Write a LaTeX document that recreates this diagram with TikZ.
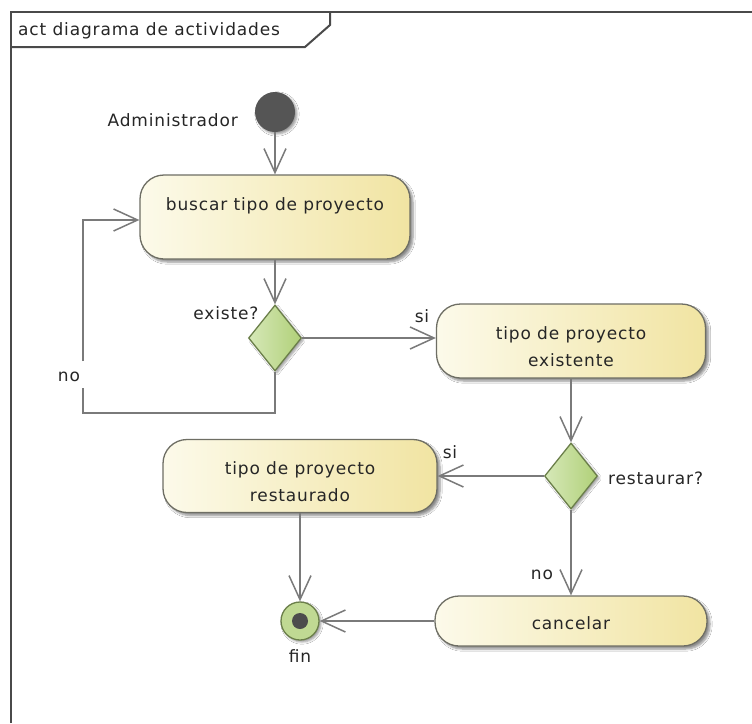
\documentclass[tikz,border=0pt]{standalone}
\usepackage{fontspec}
\setmainfont[LetterSpace=5]{DejaVu Sans}
\usetikzlibrary{arrows.meta,shapes.geometric,shadows.blur}
\definecolor{lineg}{HTML}{7A7A7A}
\definecolor{frameg}{HTML}{4A4A4A}
\definecolor{actL}{HTML}{FCFAEA}
\definecolor{actR}{HTML}{F1E4A2}
\definecolor{actB}{HTML}{6E6E64}
\definecolor{decL}{HTML}{D6E8B8}
\definecolor{decR}{HTML}{B0D078}
\definecolor{decB}{HTML}{6B7F4A}
\definecolor{dark}{HTML}{555555}
\tikzset{
  x=1pt,y=-1pt,
  every node/.style={font=\fontsize{17}{27}\selectfont, text=black!85},
  action/.style={draw=actB, line width=1.3pt, rounded corners=24pt, left color=actL, right color=actR,
    inner sep=0pt, blur shadow={shadow xshift=3pt, shadow yshift=-3pt, shadow blur steps=6, shadow opacity=45}},
  decision/.style={diamond, draw=decB, line width=1.3pt, left color=decL, right color=decR, inner sep=0pt,
    minimum width=53pt, minimum height=66pt, aspect=0.8,
    blur shadow={shadow xshift=2pt, shadow yshift=-2pt, shadow blur steps=5, shadow opacity=40}},
  flow/.style={draw=lineg, line width=1.5pt},
  arr/.style={flow, -{Straight Barb[length=24pt,width=22pt,line width=1.5pt]}},
  lbl/.style={inner sep=0pt},
}
\begin{document}
\begin{tikzpicture}
\useasboundingbox (0,0) rectangle (752,723);
\fill[white] (0,0) rectangle (752,723);
% frame
\draw[frameg, line width=2pt] (11,723) -- (11,12) -- (752,12);
\draw[frameg, line width=2pt] (11,47) -- (305,47) -- (330,25) -- (330,12);
\node[lbl, anchor=west] (title) at (18,31) {act diagrama de actividades};

% nodes
\node[circle, fill=dark, minimum size=40pt, inner sep=0pt,
  blur shadow={shadow xshift=2pt, shadow yshift=-2pt, shadow blur steps=4, shadow opacity=40}] (init) at (275,112) {};
\node[lbl, anchor=east] (adm) at (238,120) {Administrador};

\node[action, minimum width=270pt, minimum height=84pt] (a1) at (275,217) {};
\node[lbl] (t1) at (275,206) {buscar tipo de proyecto};

\node[decision] (d1) at (275,338) {};
\node[lbl] (l1) at (226,313) {existe?};

\node[action, minimum width=269pt, minimum height=74pt] (a2) at (571,341) {};
\node[lbl, align=center] (t2) at (571,347) {tipo de proyecto\\existente};

\node[decision] (d2) at (571,476) {};
\node[lbl, anchor=west] (l2) at (608,478) {restaurar?};

\node[action, minimum width=274pt, minimum height=73pt] (a3) at (300,476) {};
\node[lbl, align=center] (t3) at (300,482) {tipo de proyecto\\restaurado};

\node[action, minimum width=272pt, minimum height=50pt] (a4) at (571,621) {};
\node[lbl] (t4) at (571,623) {cancelar};

\node[circle, draw=decB, line width=1.3pt, fill=decR!80!white, minimum size=38pt, inner sep=0pt,
  blur shadow={shadow xshift=2pt, shadow yshift=-2pt, shadow blur steps=4, shadow opacity=40}] (fin) at (300,621) {};
\node[circle, fill=black!70, minimum size=16pt, inner sep=0pt] (findot) at (fin) {};
\node[lbl] (lfin) at (300,656) {fin};

% labels on flows
\node[lbl] (si1) at (422,316) {si};
\node[lbl] (no1) at (69,377) {no};
\node[lbl] (si2) at (450,452) {si};
\node[lbl] (no2) at (542,575) {no};

% loop coordinates
\coordinate (lb) at (83,413);
\coordinate (g1) at (83,388);
\coordinate (g2) at (83,361);
\coordinate (lt) at (83,220);

% connectors
\draw[arr] (init) -- (a1);
\draw[arr] (a1) -- (d1);
\draw[arr] (d1.east) -- (d1.east -| a2.west);
\draw[flow] (d1.south) |- (lb) -- (g1);
\draw[arr] (g2) -- (lt) -- (lt -| a1.west);
\draw[arr] (a2) -- (d2);
\draw[arr] (d2.west) -- (d2.west -| a3.east);
\draw[arr] (d2) -- (a4);
\draw[arr] (a3) -- (fin);
\draw[arr] (a4) -- (fin);
\end{tikzpicture}
\end{document}
